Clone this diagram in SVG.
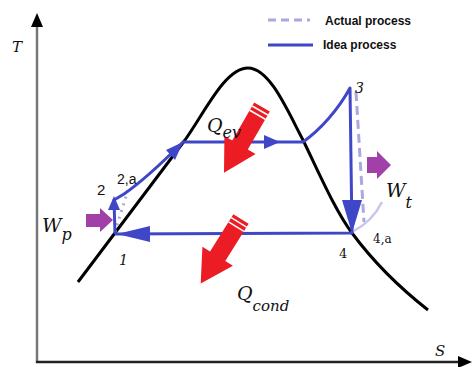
<svg xmlns="http://www.w3.org/2000/svg" width="472" height="367" viewBox="0 0 472 367">
<defs>
<style>
.cyc{fill:none;stroke:#3f47c8;stroke-width:3;stroke-linejoin:round}
.act{fill:none;stroke:#aaa8e0;stroke-width:3}
.dome{fill:none;stroke:#000;stroke-width:3}
.ah{fill:#3f47c8}
.red{fill:#ec1c24}
.pur{fill:#a040a8}
.stripe{stroke:#fff;stroke-width:1.6}
.math{font-family:"DejaVu Serif","Liberation Serif",serif;font-style:italic;fill:#111}
.lbl{font-family:"DejaVu Serif","Liberation Serif",serif;fill:#111}
.sans{font-family:"Liberation Sans","DejaVu Sans",sans-serif;fill:#111}
</style>
<g id="redArrow">
<polygon points="0,-9 44,-9 44,-18 76,0 44,18 44,9 0,9"/>
<line class="stripe" x1="4" y1="-9" x2="4" y2="9"/>
<line class="stripe" x1="9" y1="-9" x2="9" y2="9"/>
</g>
</defs>
<rect width="472" height="367" fill="#fff"/>
<g id="axes">
<line x1="37" y1="363" x2="37" y2="24" stroke="#777" stroke-width="2.5"/>
<polygon points="37,13 31,27 43,27" fill="#000"/>
<line x1="36" y1="362" x2="460" y2="362" stroke="#222" stroke-width="2.5"/>
<polygon points="472,362 458,356 458,368" fill="#000"/>
<text class="math" x="12" y="52" font-size="15">T</text>
<text class="math" x="435" y="356" font-size="15">S</text>
</g>
<g id="dome">
<path class="dome" d="M78 282 L185 140 C205 112,225 68,248 68 C270 68,288 112,303 140 C320 175,335 210,352 233 C372 260,400 288,428 310"/>
</g>
<g id="legend">
<line class="act" x1="268" y1="20" x2="310" y2="20" stroke-dasharray="8,5"/>
<text class="sans" x="325" y="25" font-size="12" font-weight="bold">Actual process</text>
<line x1="268" y1="45" x2="313" y2="45" stroke="#3f47c8" stroke-width="3"/>
<text class="sans" x="323" y="49" font-size="12" font-weight="bold">Idea process</text>
</g>
<g id="connectors">
<path class="act" d="M115 232 L128 190" stroke-dasharray="2,5" stroke-width="2.5"/>
<path class="act" d="M356 92 L364 222" stroke-dasharray="9,5"/>
<path fill="none" stroke="#c8c6ec" stroke-width="2.5" d="M352 232 C364 226,375 216,382 202"/>
<path class="cyc" d="M115 234 L114 200 L124 194 C140 183,160 165,183 142 L303 142 C320 130,338 110,350 88 L352 233 L115 234"/>
<polygon class="ah" points="114,196 108,210 120,210"/>
<polygon class="ah" points="183,142 166,150 175,160"/>
<polygon class="ah" points="280,142 264,135 264,149"/>
<polygon class="ah" points="352,233 342,200 362,200"/>
<polygon class="ah" points="117,234 150,226 150,242"/>
</g>
<g id="heat">
<use href="#redArrow" class="red" transform="translate(262,107) rotate(120)"/>
<use href="#redArrow" class="red" transform="translate(241,219) rotate(122)"/>
</g>
<g id="work">
<polygon class="pur" points="86,214 100,214 100,208 113,220 100,232 100,227 86,227"/>
<polygon class="pur" points="367,157 377,157 377,151 391,165 377,179 377,173 367,173"/>
</g>
<g id="labels">
<text class="sans" x="117" y="184" font-size="14">2,a</text>
<text class="sans" x="97" y="195" font-size="15">2</text>
<text class="lbl" x="119" y="265" font-style="italic" font-size="14">1</text>
<text class="lbl" x="355" y="93" font-style="italic" font-size="14">3</text>
<text class="lbl" x="339" y="258" font-size="13">4</text>
<text class="lbl" x="373" y="243" font-size="12">4,a</text>
<text class="math" x="42" y="232"><tspan font-size="19">W</tspan><tspan font-size="16" dy="8">p</tspan></text>
<text class="math" x="386" y="197"><tspan font-size="19">W</tspan><tspan font-size="16" dy="11">t</tspan></text>
<text class="math" x="207" y="132"><tspan font-size="19">Q</tspan><tspan font-size="16" dy="6">ev</tspan></text>
<text class="math" x="237" y="300"><tspan font-size="19">Q</tspan><tspan font-size="15" dy="11">cond</tspan></text>
</g>
</svg>
